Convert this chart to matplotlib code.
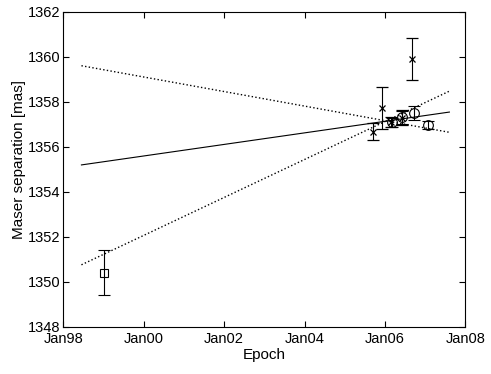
import matplotlib
matplotlib.use("Agg")
import matplotlib.pyplot as plt

plt.rcParams['font.family'] = ['Liberation Sans', 'DejaVu Sans']

# decimal-year epochs and separations [mas]
sq_epoch = [1999.0]
sq_sep = [1350.4]
sq_err = [1.0]

x_epoch = [2005.70, 2005.92, 2006.15, 2006.42, 2006.67]
x_sep = [1356.68, 1357.72, 1357.12, 1357.30, 1359.91]
x_err = [0.37, 0.93, 0.22, 0.33, 0.95]

o_epoch = [2006.17, 2006.42, 2006.71, 2007.08]
o_sep = [1357.10, 1357.32, 1357.50, 1356.98]
o_err = [0.20, 0.28, 0.31, 0.17]

# linear fit and its bounds
fit_epoch = [1998.45, 2007.6]
fit_sep = [1355.2, 1357.55]
upper_sep = [1359.61, 1356.65]
lower_sep = [1350.76, 1358.48]

xticks = [1998, 2000, 2002, 2004, 2006, 2008]
xticklabels = ['Jan98', 'Jan00', 'Jan02', 'Jan04', 'Jan06', 'Jan08']
yticks = [1348, 1350, 1352, 1354, 1356, 1358, 1360, 1362]

fig = plt.figure(figsize=(4.91, 3.74), dpi=100)
ax = fig.add_axes([0.129, 0.126, 0.819, 0.842])

ax.plot(fit_epoch, fit_sep, 'k-', lw=0.8)
ax.plot(fit_epoch, upper_sep, 'k:', lw=1.0)
ax.plot(fit_epoch, lower_sep, 'k:', lw=1.0)

ax.errorbar(sq_epoch, sq_sep, yerr=sq_err, fmt='s', mfc='none', mec='k',
            ms=6, mew=0.8, ecolor='k', elinewidth=0.8, capsize=4, capthick=0.8)
ax.errorbar(x_epoch, x_sep, yerr=x_err, fmt='x', mec='k', ms=4, mew=0.9,
            ecolor='k', elinewidth=0.8, capsize=4, capthick=0.8)
ax.errorbar(o_epoch, o_sep, yerr=o_err, fmt='o', mfc='none', mec='k',
            ms=7, mew=0.8, ecolor='k', elinewidth=0.8, capsize=4, capthick=0.8)

ax.set_xlim(1998, 2008)
ax.set_ylim(1348, 1362)
ax.set_xticks(xticks)
ax.set_xticklabels(xticklabels)
ax.set_yticks(yticks)
ax.tick_params(direction='in', top=True, right=True, labelsize=10.5, length=4)
ax.tick_params(axis='x', pad=4)
ax.tick_params(axis='y', pad=2)
ax.set_xlabel('Epoch', fontsize=11, labelpad=1)
ax.set_ylabel('Maser separation [mas]', fontsize=11, labelpad=3)
ax.yaxis.set_label_coords(-0.093, 0.53)
for s in ax.spines.values():
    s.set_linewidth(0.8)

fig.savefig('out.png', dpi=100)
